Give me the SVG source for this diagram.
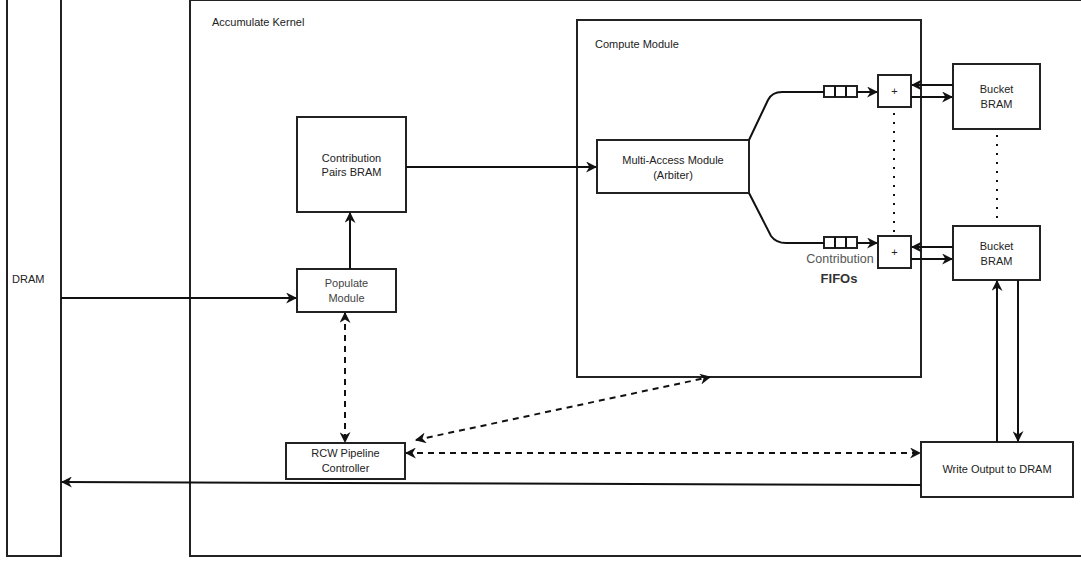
<svg xmlns="http://www.w3.org/2000/svg" width="1081" height="562" viewBox="0 0 1081 562">
<style>
.box{fill:#fff;stroke:#222;stroke-width:2}
.t{font-family:"Liberation Sans",Arial,sans-serif;font-size:11px;fill:#222;text-anchor:middle}
.tl{font-family:"Liberation Sans",Arial,sans-serif;font-size:11px;fill:#222}
.ln{fill:none;stroke:#111;stroke-width:2}
.dash{fill:none;stroke:#111;stroke-width:2;stroke-dasharray:6 5}
.dot{fill:none;stroke:#111;stroke-width:2;stroke-dasharray:2 7}
</style>
<defs>
<marker id="ahb" viewBox="0 0 10 10" refX="9" refY="5" markerWidth="11" markerHeight="11" orient="auto-start-reverse" markerUnits="userSpaceOnUse">
<path d="M0,0 L10,5 L0,10 L3,5 Z" fill="#111"/>
</marker>
</defs>
<rect width="1081" height="562" fill="#fff"/>
<g id="dram"><rect class="box" x="7" y="-5" width="54" height="561"/><text class="tl" x="12" y="283">DRAM</text></g>
<g id="kernel"><rect class="box" x="190" y="0" width="900" height="556"/><text class="tl" x="212" y="26">Accumulate Kernel</text></g>
<g id="compute"><rect class="box" x="577" y="20" width="344" height="357"/><text class="tl" x="595" y="48">Compute Module</text></g>
<g id="cpbram"><rect class="box" x="297" y="117" width="109" height="95"/><text class="t" x="351.5" y="162">Contribution</text><text class="t" x="351.5" y="176">Pairs BRAM</text></g>
<g id="populate"><rect class="box" x="297" y="269" width="99" height="43"/><text class="t" x="346.5" y="287" style="fill:#444">Populate</text><text class="t" x="346.5" y="302" style="fill:#444">Module</text></g>
<g id="rcw"><rect class="box" x="286" y="443" width="119" height="36"/><text class="t" x="345.5" y="457">RCW Pipeline</text><text class="t" x="345.5" y="472">Controller</text></g>
<g id="writeout"><rect class="box" x="921" y="442" width="152" height="55"/><text class="t" x="997" y="473">Write Output to DRAM</text></g>
<g id="multi"><rect class="box" x="597" y="140" width="152" height="53"/><text class="t" x="673" y="164">Multi-Access Module</text><text class="t" x="673" y="179">(Arbiter)</text></g>
<g id="plus1"><rect class="box" x="878" y="75" width="33" height="32"/><text class="t" x="894.5" y="95">+</text></g>
<g id="plus2"><rect class="box" x="878" y="236" width="33" height="32"/><text class="t" x="894.5" y="256">+</text></g>
<g id="bucket1"><rect class="box" x="953" y="64" width="87" height="65"/><text class="t" x="996.5" y="93">Bucket</text><text class="t" x="996.5" y="108">BRAM</text></g>
<g id="bucket2"><rect class="box" x="953" y="226" width="87" height="54"/><text class="t" x="996.5" y="250">Bucket</text><text class="t" x="996.5" y="265">BRAM</text></g>
<g id="fifo1"><rect class="box" x="824" y="86" width="33" height="11" stroke-width="1.5"/><path class="ln" stroke-width="1.5" d="M835,86 V97 M846,86 V97"/></g>
<g id="fifo2"><rect class="box" x="824" y="237" width="33" height="11" stroke-width="1.5"/><path class="ln" stroke-width="1.5" d="M835,237 V248 M846,237 V248"/></g>
<g id="fifolabel"><text class="t" x="840" y="263" style="font-size:12.5px;fill:#555">Contribution</text><text class="t" x="839" y="283" style="font-weight:bold;font-size:13px;fill:#333">FIFOs</text></g>
<g id="connectors">
<path class="ln" d="M61,298 H296" marker-end="url(#ahb)"/>
<path class="ln" d="M350,269 V213" marker-end="url(#ahb)"/>
<path class="ln" d="M406,167 H596" marker-end="url(#ahb)"/>
<path class="ln" d="M749,140 L768,100 Q772,92 782,92 H824"/>
<path class="ln" d="M749,193 L771,236 Q776,243 786,243 H824"/>
<path class="ln" d="M857,92 H877" marker-end="url(#ahb)"/>
<path class="ln" d="M857,243 H877" marker-end="url(#ahb)"/>
<path class="ln" d="M953,85 H912" marker-end="url(#ahb)"/>
<path class="ln" d="M911,97 H952" marker-end="url(#ahb)"/>
<path class="ln" d="M953,247 H912" marker-end="url(#ahb)"/>
<path class="ln" d="M911,259 H952" marker-end="url(#ahb)"/>
<path class="dot" d="M894,113 V232"/>
<path class="dot" d="M997,135 V222"/>
<path class="dash" d="M345,313 V442" marker-start="url(#ahb)" marker-end="url(#ahb)"/>
<path class="dash" d="M416,440 L710,377" marker-start="url(#ahb)" marker-end="url(#ahb)"/>
<path class="dash" d="M406,453 H920" marker-start="url(#ahb)" marker-end="url(#ahb)"/>
<path class="ln" d="M921,485 L62,482" marker-end="url(#ahb)"/>
<path class="ln" d="M997,442 V281" marker-end="url(#ahb)"/>
<path class="ln" d="M1018,280 V441" marker-end="url(#ahb)"/>
</g>
</svg>
